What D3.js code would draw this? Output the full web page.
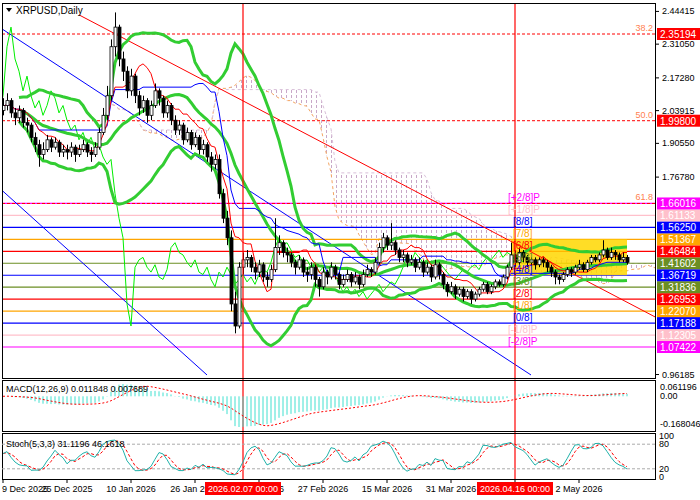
<!DOCTYPE html><html><head><meta charset="utf-8"><script src="https://cdn.jsdelivr.net/npm/d3@7"></script>
<style>body{margin:0;background:#fff}svg{font-family:"Liberation Sans",Arial,sans-serif}</style></head><body><svg id="c" width="700" height="500"></svg>
<script>
const startDate="2025-12-09";
const closes=[2.06,2.08,2.03,2.01,2.04,1.99,1.98,1.93,1.90,1.86,1.88,1.92,1.89,1.91,1.87,1.88,1.87,1.89,1.86,1.88,1.90,1.87,1.86,
1.89,1.95,2.02,2.10,2.30,2.38,2.25,2.20,2.12,2.18,2.10,2.05,2.08,2.02,2.06,2.12,2.09,2.03,2.06,2.00,1.96,1.98,1.92,1.95,1.90,1.93,1.88,1.90,1.85,1.82,1.84,
1.70,1.60,1.52,1.25,1.16,1.40,1.43,1.44,1.40,1.38,1.41,1.36,1.35,1.39,1.48,1.50,1.46,1.45,1.42,1.40,1.43,1.38,1.37,1.40,1.35,1.32,1.38,1.36,
1.40,1.37,1.33,1.35,1.37,1.34,1.36,1.33,1.37,1.39,1.38,1.42,1.48,1.52,1.49,1.50,1.47,1.44,1.45,1.42,1.43,1.40,1.42,1.38,1.40,1.36,1.41,1.37,1.33,1.30,1.32,
1.29,1.31,1.28,1.30,1.27,1.29,1.31,1.33,1.30,1.32,1.34,1.33,1.36,1.40,1.45,1.42,1.46,1.44,1.42,1.43,1.41,1.43,1.42,1.40,1.38,1.36,1.35,1.37,1.39,1.38,
1.40,1.41,1.39,1.42,1.44,1.43,1.45,1.47,1.44,1.46,1.45,1.43,1.44,1.42];
const highs=[2.09,2.11,2.09,2.05,2.06,2.05,2.01,1.99,1.95,1.92,1.91,1.94,1.93,1.93,1.92,1.90,1.90,1.91,1.90,1.90,1.92,1.91,1.89,
1.91,1.97,2.05,2.14,2.33,2.44,2.39,2.28,2.22,2.21,2.19,2.12,2.10,2.09,2.08,2.15,2.13,2.10,2.08,2.07,2.02,2.00,1.99,1.97,1.96,1.95,1.94,1.92,1.91,1.87,1.86,
1.86,1.72,1.63,1.55,1.30,1.42,1.46,1.47,1.45,1.42,1.43,1.42,1.38,1.41,1.60,1.53,1.51,1.48,1.46,1.43,1.45,1.44,1.40,1.42,1.41,1.36,1.40,1.39,
1.42,1.41,1.38,1.37,1.39,1.38,1.38,1.37,1.39,1.41,1.40,1.44,1.50,1.54,1.53,1.58,1.51,1.48,1.47,1.46,1.45,1.44,1.44,1.43,1.42,1.41,1.43,1.42,1.38,1.34,1.34,
1.33,1.32,1.32,1.31,1.31,1.30,1.32,1.34,1.34,1.33,1.35,1.35,1.37,1.41,1.50,1.47,1.48,1.47,1.45,1.44,1.44,1.44,1.44,1.43,1.41,1.39,1.37,1.38,1.40,1.40,
1.41,1.43,1.42,1.43,1.45,1.45,1.46,1.51,1.48,1.48,1.47,1.46,1.46,1.45];
const lows=[2.02,2.04,2.01,1.98,1.99,1.97,1.95,1.91,1.87,1.81,1.84,1.87,1.87,1.88,1.85,1.85,1.84,1.85,1.83,1.85,1.87,1.85,1.83,
1.85,1.88,1.94,2.00,2.08,2.26,2.22,2.16,2.09,2.10,2.07,2.02,2.03,1.99,2.00,2.05,2.06,2.01,2.01,1.98,1.94,1.94,1.90,1.91,1.88,1.89,1.86,1.86,1.83,1.79,1.80,
1.68,1.58,1.49,1.22,1.13,1.15,1.37,1.40,1.38,1.35,1.36,1.34,1.32,1.34,1.38,1.45,1.44,1.42,1.40,1.37,1.39,1.36,1.34,1.35,1.32,1.28,1.31,1.33,
1.35,1.35,1.31,1.32,1.34,1.32,1.33,1.31,1.32,1.36,1.36,1.37,1.41,1.46,1.47,1.47,1.45,1.42,1.42,1.40,1.41,1.38,1.39,1.36,1.37,1.34,1.35,1.35,1.31,1.28,1.29,
1.27,1.28,1.26,1.27,1.25,1.26,1.28,1.30,1.29,1.29,1.31,1.32,1.32,1.35,1.39,1.40,1.41,1.42,1.40,1.41,1.39,1.40,1.40,1.38,1.36,1.33,1.33,1.34,1.36,1.36,
1.37,1.39,1.38,1.38,1.41,1.42,1.42,1.44,1.43,1.43,1.43,1.42,1.42,1.41];
const firstOpen=2.04;
const murrey=[["[-2/8]P",1.07422,"#ff00ff"],["[-1/8]P",1.12305,"#ffc0cb"],["[0/8]",1.17188,"#0000ff"],["[1/8]",1.22070,"#ffa500"],["[2/8]",1.26953,"#ff0000"],["[3/8]",1.31836,"#6b8e23"],["[4/8]",1.36719,"#0000ff"],["[5/8]",1.41602,"#6b8e23"],["[6/8]",1.46484,"#ff0000"],["[7/8]",1.51367,"#ffa500"],["[8/8]",1.56250,"#0000ff"],["[+1/8]P",1.61133,"#ffc0cb"],["[+2/8]P",1.66016,"#ff00ff"]];
const fibs=[["38.2",2.35194],["50.0",1.99800],["61.8",1.66016]];
const priceTicks=[2.44415,2.31050,2.17280,2.03915,1.90550,1.76780,0.96185];
const dateTicks=["2025-12-09","2025-12-25","2026-01-10","2026-01-26","2026-02-11","2026-02-27","2026-03-15","2026-03-31","2026-04-16","2026-05-02"];
const markers=["2026-02-07","2026-04-16"];
const trendLines=[["2025-12-28",2.43,"2026-05-23",1.18,"#ff0000"],["2025-12-09",2.37,"2026-04-20",0.96,"#0000ff"],["2025-12-09",1.71,"2026-01-29",0.96,"#0000ff"]];
const boxRange=["2026-04-15","2026-05-14",1.51367,1.36719];

const svg=d3.select("#c");
const pd=d3.timeParse("%Y-%m-%d");
const d0=pd(startDate);
const dates=closes.map((c,i)=>d3.timeDay.offset(d0,i));
const opens=closes.map((c,i)=>i?closes[i-1]:firstOpen);
const x=d3.scaleTime().domain([d0,d3.timeDay.offset(d0,163)]).range([3,655]);
const y=d3.scaleLinear().domain([1.07422,2.35194]).range([347,34]);
const R=655;
svg.append("clipPath").attr("id","cm").append("rect").attr("x",2).attr("y",3).attr("width",R-2).attr("height",375);
const g=svg.append("g").attr("clip-path","url(#cm)");
const n=closes.length;
const hh=(i,p)=>d3.max(highs.slice(Math.max(0,i-p+1),i+1)), ll=(i,p)=>d3.min(lows.slice(Math.max(0,i-p+1),i+1));
const tenkan=closes.map((c,i)=>(hh(i,9)+ll(i,9))/2), kijun=closes.map((c,i)=>(hh(i,26)+ll(i,26))/2);
const spanA=closes.map((c,i)=>({d:d3.timeDay.offset(dates[i],26),v:(tenkan[i]+kijun[i])/2}));
const spanB=closes.map((c,i)=>({d:d3.timeDay.offset(dates[i],26),v:(hh(i,52)+ll(i,52))/2}));
const bb=closes.map((c,i)=>{const s=closes.slice(Math.max(0,i-19),i+1);const m=d3.mean(s);const sd=Math.sqrt(d3.mean(s,v=>(v-m)*(v-m)));return [m,m+2*sd,m-2*sd];});
const pat=svg.append("defs").append("pattern").attr("id","hat").attr("width",5).attr("height",5).attr("patternUnits","userSpaceOnUse");
pat.append("rect").attr("x",1).attr("y",0).attr("width",1).attr("height",3).attr("fill","#c8a8c8");
const area=d3.area().x((d,i)=>x(spanA[i].d)).y0((d,i)=>y(spanA[i].v)).y1((d,i)=>y(spanB[i].v));
g.append("path").datum(spanA).attr("d",area).attr("fill","url(#hat)");
const ln=(arr,acc,xd)=>d3.line().x((d,i)=>x(xd?xd(d,i):dates[i])).y((d,i)=>y(acc(d,i)))(arr);
g.append("path").attr("d",d3.line().x(d=>x(d.d)).y(d=>y(d.v))(spanA)).attr("fill","none").attr("stroke","#f4a460").attr("stroke-dasharray","3,3");
g.append("path").attr("d",d3.line().x(d=>x(d.d)).y(d=>y(d.v))(spanB)).attr("fill","none").attr("stroke","#d8bfd8").attr("stroke-dasharray","3,3");
murrey.forEach(m=>g.append("line").attr("x1",2).attr("x2",R).attr("y1",y(m[1])).attr("y2",y(m[1])).attr("stroke",m[2]).attr("stroke-width",1.2));
fibs.forEach(f=>g.append("line").attr("x1",2).attr("x2",R).attr("y1",y(f[1])).attr("y2",y(f[1])).attr("stroke","#ff0000").attr("stroke-dasharray","3,2"));
fibs.forEach(f=>svg.append("text").attr("x",R-2).attr("y",y(f[1])-3).attr("text-anchor","end").attr("font-size",9).attr("fill","#ff7f50").text(f[0]));
g.append("rect").attr("x",x(pd(boxRange[0]))).attr("width",x(pd(boxRange[1]))-x(pd(boxRange[0]))).attr("y",y(boxRange[2])).attr("height",y(boxRange[3])-y(boxRange[2])).attr("fill","#ffd700").attr("opacity",0.85);
trendLines.forEach(t=>g.append("line").attr("x1",x(pd(t[0]))).attr("y1",y(t[1])).attr("x2",x(pd(t[2]))).attr("y2",y(t[3])).attr("stroke",t[4]).attr("stroke-width",1));
g.append("path").attr("d",ln(closes,d=>d,(d,i)=>d3.timeDay.offset(dates[i],-26))).attr("fill","none").attr("stroke","#00ee00").attr("stroke-width",1);
[1,2,0].forEach(k=>g.append("path").attr("d",ln(bb.slice(4),d=>d[k],(d,i)=>dates[i+4])).attr("fill","none").attr("stroke","#32cd32").attr("stroke-width",3));
g.append("path").attr("d",ln(kijun,d=>d)).attr("fill","none").attr("stroke","#0000ff").attr("stroke-width",1);
g.append("path").attr("d",ln(tenkan,d=>d)).attr("fill","none").attr("stroke","#ff0000").attr("stroke-width",1);
closes.forEach((c,i)=>{const xi=Math.round(x(dates[i]))+0.5,o=opens[i];
g.append("line").attr("x1",xi).attr("x2",xi).attr("y1",y(highs[i])).attr("y2",y(lows[i])).attr("stroke","#000");
g.append("rect").attr("x",xi-1.5).attr("width",3).attr("y",y(Math.max(o,c))).attr("height",Math.max(1,y(Math.min(o,c))-y(Math.max(o,c)))).attr("fill",c>=o?"#fff":"#000").attr("stroke","#000").attr("stroke-width",0.8);});
markers.forEach(m=>svg.append("line").attr("x1",x(pd(m))).attr("x2",x(pd(m))).attr("y1",3).attr("y2",479).attr("stroke","#ff0000").attr("stroke-width",1.2));
murrey.forEach(m=>svg.append("text").attr("x",x(pd("2026-04-15"))+(m[0].includes("P")?-3:2)).attr("y",y(m[1])-2).attr("font-size",10).attr("fill",m[2]).text(m[0]));
[[2,3,378],[2,380,431],[2,433,479]].forEach(f=>svg.append("rect").attr("x",f[0]+0.5).attr("y",f[1]+0.5).attr("width",R-f[0]).attr("height",f[2]-f[1]).attr("fill","none").attr("stroke","#000"));
svg.append("path").attr("d","M6,8 L12,8 L9,12 Z").attr("fill","#000");
svg.append("text").attr("x",16).attr("y",14).attr("font-size",10).text("XRPUSD,Daily");
priceTicks.forEach(p=>{svg.append("line").attr("x1",R).attr("x2",R+4).attr("y1",y(p)).attr("y2",y(p)).attr("stroke","#000");svg.append("text").attr("x",R+7).attr("y",y(p)+3).attr("font-size",9).text(p.toFixed(5));});
const boxes=[[2.35194,"#ff0000","#fff"],[1.99800,"#ff0000","#fff"]].concat(murrey.map(m=>[m[1],m[2],"#fff"]));
boxes.forEach(b=>{svg.append("rect").attr("x",R+2).attr("y",y(b[0])-6).attr("width",43).attr("height",12).attr("fill",b[1]);svg.append("text").attr("x",R+5).attr("y",y(b[0])+4).attr("font-size",10).attr("fill",b[2]).text(b[0].toFixed(5));});
const ema=(arr,p)=>{const k=2/(p+1);let e=arr[0];return arr.map(v=>e=v*k+e*(1-k));};
const e12=ema(closes,12),e26=ema(closes,26);const macd=closes.map((c,i)=>e12[i]-e26[i]);
const sig=macd.map((v,i)=>d3.mean(macd.slice(Math.max(0,i-8),i+1)));
const mx=d3.max(macd),mn=d3.min(macd);
const ym=d3.scaleLinear().domain([mn,mx]).range([427,384]);
macd.forEach((v,i)=>svg.append("line").attr("x1",x(dates[i])).attr("x2",x(dates[i])).attr("y1",ym(0)).attr("y2",ym(v)).attr("stroke","#40e0d0"));
svg.append("path").attr("d",d3.line().x((d,i)=>x(dates[i])).y(d=>ym(d))(sig)).attr("fill","none").attr("stroke","#ff0000").attr("stroke-dasharray","2,2");
svg.append("text").attr("x",6).attr("y",392).attr("font-size",9).text("MACD(12,26,9) 0.011848 0.007689");
[[387,"0.061196"],[ym(0),"0.00"],[424,"-0.168046"]].forEach(t=>svg.append("text").attr("x",R+5).attr("y",t[0]+3).attr("font-size",9).text(t[1]));
const kraw=closes.map((c,i)=>{const h=hh(i,5),l=ll(i,5);return h>l?100*(c-l)/(h-l):50;});
const kk=kraw.map((v,i)=>d3.mean(kraw.slice(Math.max(0,i-2),i+1)));const dd=kk.map((v,i)=>d3.mean(kk.slice(Math.max(0,i-2),i+1)));
const ys=d3.scaleLinear().domain([0,100]).range([477,436]);
[80,20].forEach(v=>svg.append("line").attr("x1",2).attr("x2",R).attr("y1",ys(v)).attr("y2",ys(v)).attr("stroke","#aaa").attr("stroke-dasharray","3,2"));
svg.append("path").attr("d",d3.line().x((d,i)=>x(dates[i])).y(d=>ys(d))(dd)).attr("fill","none").attr("stroke","#ff0000").attr("stroke-dasharray","3,2");
svg.append("path").attr("d",d3.line().x((d,i)=>x(dates[i])).y(d=>ys(d))(kk)).attr("fill","none").attr("stroke","#20b2aa");
svg.append("text").attr("x",6).attr("y",447).attr("font-size",9).text("Stoch(5,3,3) 31.1196 46.1618");
[[100,"100"],[80,"80"],[20,"20"],[0,"0"]].forEach(t=>svg.append("text").attr("x",R+4).attr("y",ys(t[0])+3).attr("font-size",9).text(t[1]));
const fmt=d3.timeFormat("%-d %b %Y");
dateTicks.forEach((t,i)=>{const xx=x(pd(t));svg.append("line").attr("x1",xx).attr("x2",xx).attr("y1",479).attr("y2",483).attr("stroke","#000");svg.append("text").attr("x",i?xx:2).attr("y",492).attr("font-size",9).attr("text-anchor",i?"middle":"start").text(fmt(pd(t)));});
const fm2=d3.timeFormat("%Y.%m.%d %H:%M");
markers.forEach(m=>{const xx=x(pd(m));svg.append("rect").attr("x",xx-38).attr("y",482).attr("width",76).attr("height",13).attr("fill","#ff0000");svg.append("text").attr("x",xx).attr("y",492).attr("font-size",9).attr("fill","#fff").attr("text-anchor","middle").text(fm2(pd(m)));});
</script></body></html>
